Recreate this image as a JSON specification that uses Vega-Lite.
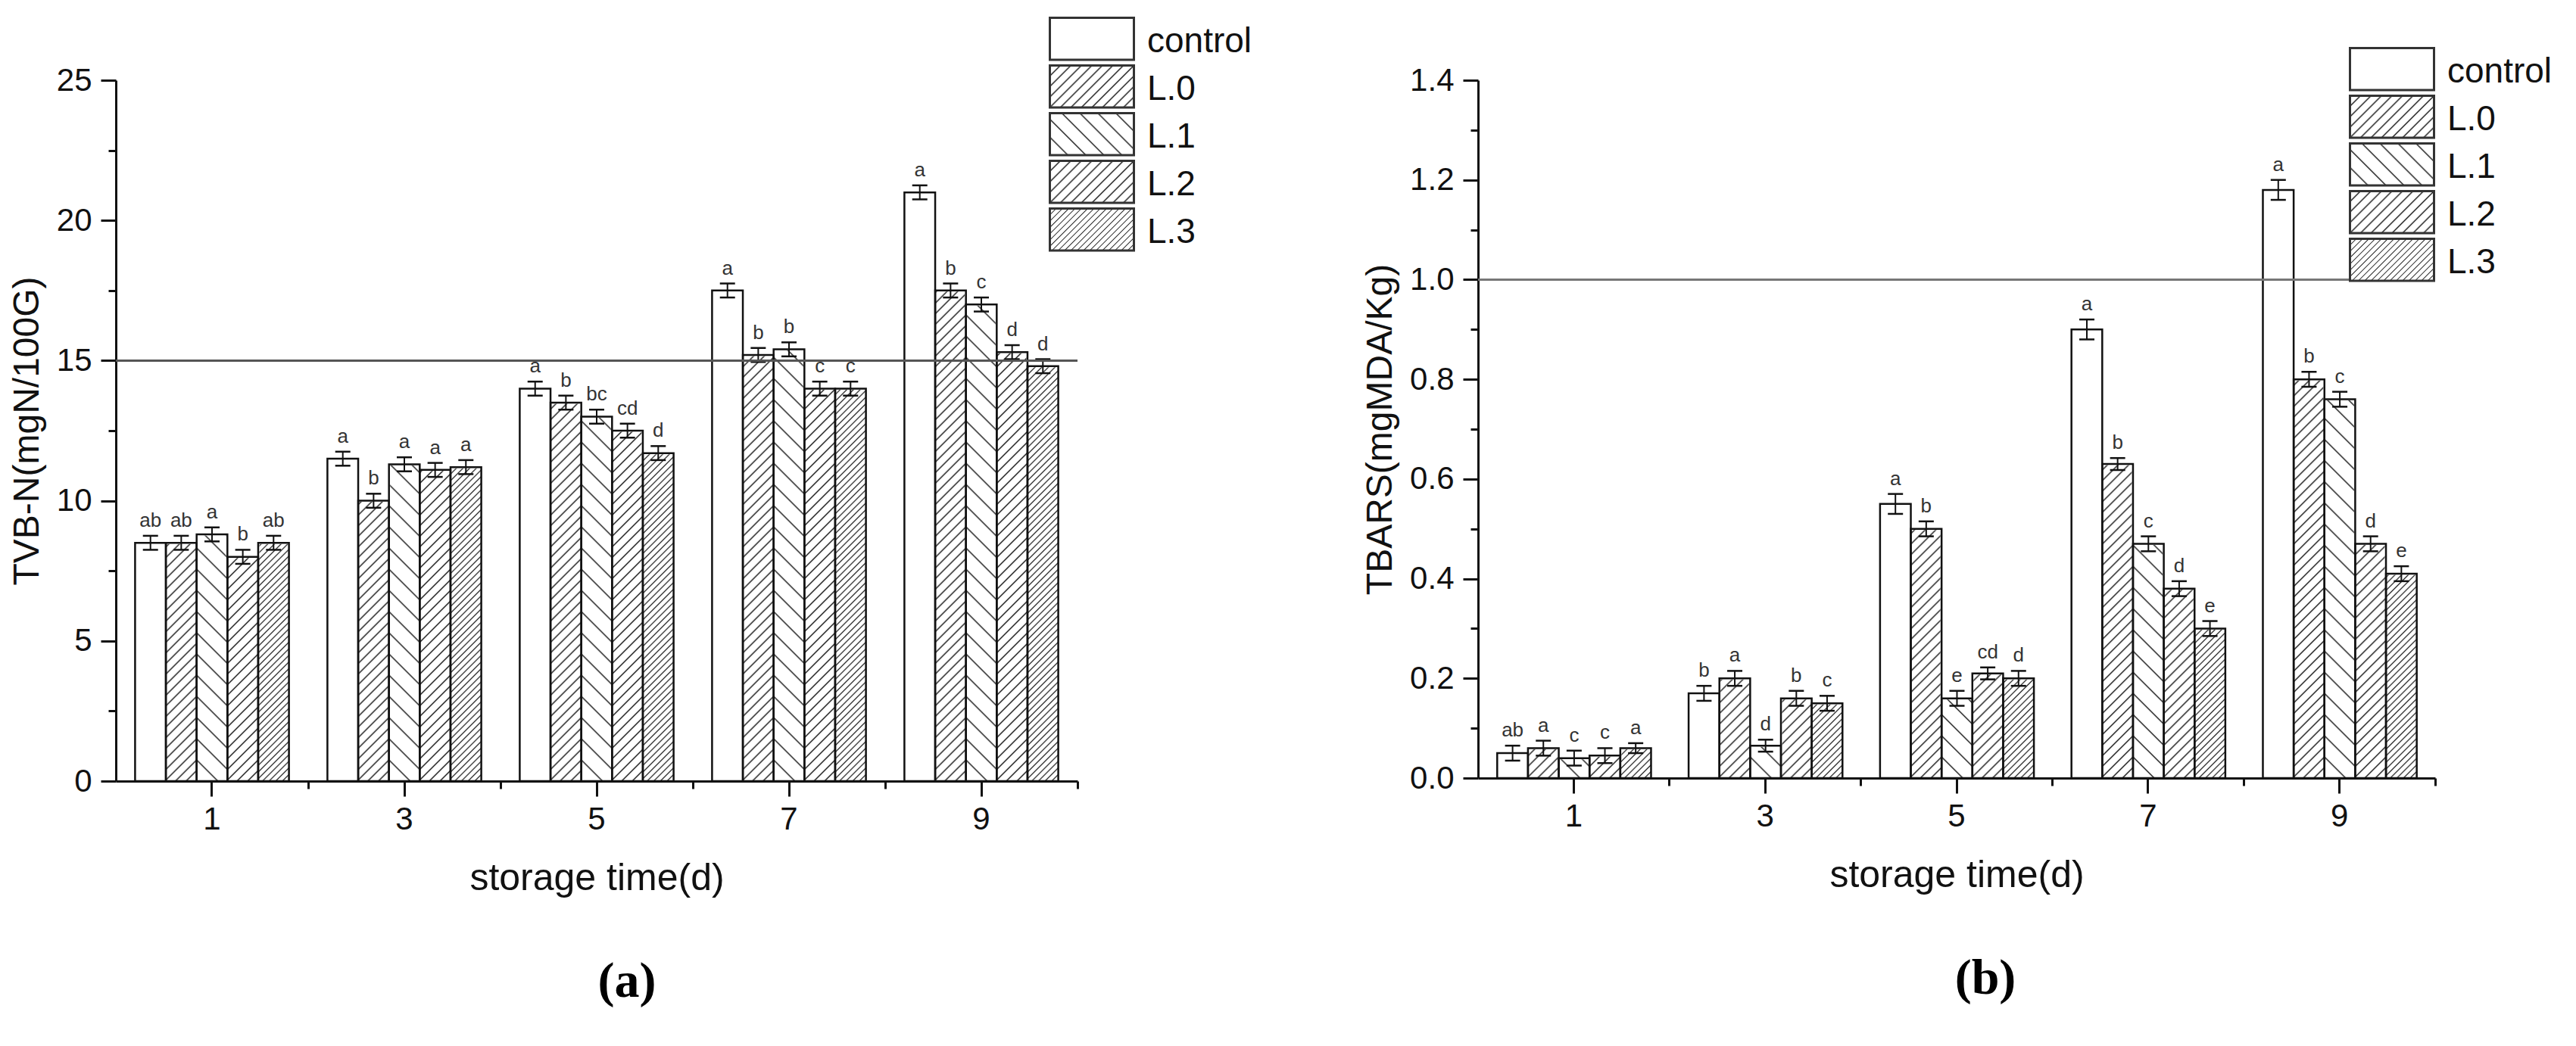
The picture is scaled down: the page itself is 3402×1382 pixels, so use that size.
{
"$schema":"https://vega.github.io/schema/vega-lite/v6.json",
"background":"#ffffff",
"padding":{"left":12,"top":22,"right":10,"bottom":10},
"spacing":145,
"resolve":{"scale":{"fill":"independent"},"legend":{"fill":"independent"}},
"params":[
{"name":"g0","value":{"gradient":"linear","x1":0,"y1":0,"x2":0.0651,"y2":1.0576,"stops":[{"offset":0,"color":"#222"},{"offset":0.003,"color":"#fff"},{"offset":0.017,"color":"#fff"},{"offset":0.02,"color":"#222"},{"offset":0.023,"color":"#fff"},{"offset":0.037,"color":"#fff"},{"offset":0.04,"color":"#222"},{"offset":0.043,"color":"#fff"},{"offset":0.057,"color":"#fff"},{"offset":0.06,"color":"#222"},{"offset":0.063,"color":"#fff"},{"offset":0.077,"color":"#fff"},{"offset":0.08,"color":"#222"},{"offset":0.083,"color":"#fff"},{"offset":0.097,"color":"#fff"},{"offset":0.1,"color":"#222"},{"offset":0.103,"color":"#fff"},{"offset":0.117,"color":"#fff"},{"offset":0.12,"color":"#222"},{"offset":0.123,"color":"#fff"},{"offset":0.137,"color":"#fff"},{"offset":0.14,"color":"#222"},{"offset":0.143,"color":"#fff"},{"offset":0.157,"color":"#fff"},{"offset":0.16,"color":"#222"},{"offset":0.163,"color":"#fff"},{"offset":0.177,"color":"#fff"},{"offset":0.18,"color":"#222"},{"offset":0.183,"color":"#fff"},{"offset":0.197,"color":"#fff"},{"offset":0.2,"color":"#222"},{"offset":0.203,"color":"#fff"},{"offset":0.217,"color":"#fff"},{"offset":0.22,"color":"#222"},{"offset":0.223,"color":"#fff"},{"offset":0.237,"color":"#fff"},{"offset":0.24,"color":"#222"},{"offset":0.243,"color":"#fff"},{"offset":0.257,"color":"#fff"},{"offset":0.26,"color":"#222"},{"offset":0.263,"color":"#fff"},{"offset":0.277,"color":"#fff"},{"offset":0.28,"color":"#222"},{"offset":0.283,"color":"#fff"},{"offset":0.297,"color":"#fff"},{"offset":0.3,"color":"#222"},{"offset":0.303,"color":"#fff"},{"offset":0.317,"color":"#fff"},{"offset":0.32,"color":"#222"},{"offset":0.323,"color":"#fff"},{"offset":0.337,"color":"#fff"},{"offset":0.34,"color":"#222"},{"offset":0.343,"color":"#fff"},{"offset":0.357,"color":"#fff"},{"offset":0.36,"color":"#222"},{"offset":0.363,"color":"#fff"},{"offset":0.377,"color":"#fff"},{"offset":0.38,"color":"#222"},{"offset":0.383,"color":"#fff"},{"offset":0.397,"color":"#fff"},{"offset":0.4,"color":"#222"},{"offset":0.403,"color":"#fff"},{"offset":0.417,"color":"#fff"},{"offset":0.42,"color":"#222"},{"offset":0.423,"color":"#fff"},{"offset":0.437,"color":"#fff"},{"offset":0.44,"color":"#222"},{"offset":0.443,"color":"#fff"},{"offset":0.457,"color":"#fff"},{"offset":0.46,"color":"#222"},{"offset":0.463,"color":"#fff"},{"offset":0.477,"color":"#fff"},{"offset":0.48,"color":"#222"},{"offset":0.483,"color":"#fff"},{"offset":0.497,"color":"#fff"},{"offset":0.5,"color":"#222"},{"offset":0.503,"color":"#fff"},{"offset":0.517,"color":"#fff"},{"offset":0.52,"color":"#222"},{"offset":0.523,"color":"#fff"},{"offset":0.537,"color":"#fff"},{"offset":0.54,"color":"#222"},{"offset":0.543,"color":"#fff"},{"offset":0.557,"color":"#fff"},{"offset":0.56,"color":"#222"},{"offset":0.563,"color":"#fff"},{"offset":0.577,"color":"#fff"},{"offset":0.58,"color":"#222"},{"offset":0.583,"color":"#fff"},{"offset":0.597,"color":"#fff"},{"offset":0.6,"color":"#222"},{"offset":0.603,"color":"#fff"},{"offset":0.617,"color":"#fff"},{"offset":0.62,"color":"#222"},{"offset":0.623,"color":"#fff"},{"offset":0.637,"color":"#fff"},{"offset":0.64,"color":"#222"},{"offset":0.643,"color":"#fff"},{"offset":0.657,"color":"#fff"},{"offset":0.66,"color":"#222"},{"offset":0.663,"color":"#fff"},{"offset":0.677,"color":"#fff"},{"offset":0.68,"color":"#222"},{"offset":0.683,"color":"#fff"},{"offset":0.697,"color":"#fff"},{"offset":0.7,"color":"#222"},{"offset":0.703,"color":"#fff"},{"offset":0.717,"color":"#fff"},{"offset":0.72,"color":"#222"},{"offset":0.723,"color":"#fff"},{"offset":0.737,"color":"#fff"},{"offset":0.74,"color":"#222"},{"offset":0.743,"color":"#fff"},{"offset":0.757,"color":"#fff"},{"offset":0.76,"color":"#222"},{"offset":0.763,"color":"#fff"},{"offset":0.777,"color":"#fff"},{"offset":0.78,"color":"#222"},{"offset":0.783,"color":"#fff"},{"offset":0.797,"color":"#fff"},{"offset":0.8,"color":"#222"},{"offset":0.803,"color":"#fff"},{"offset":0.817,"color":"#fff"},{"offset":0.82,"color":"#222"},{"offset":0.823,"color":"#fff"},{"offset":0.837,"color":"#fff"},{"offset":0.84,"color":"#222"},{"offset":0.843,"color":"#fff"},{"offset":0.857,"color":"#fff"},{"offset":0.86,"color":"#222"},{"offset":0.863,"color":"#fff"},{"offset":0.877,"color":"#fff"},{"offset":0.88,"color":"#222"},{"offset":0.883,"color":"#fff"},{"offset":0.897,"color":"#fff"},{"offset":0.9,"color":"#222"},{"offset":0.903,"color":"#fff"},{"offset":0.917,"color":"#fff"},{"offset":0.92,"color":"#222"},{"offset":0.923,"color":"#fff"},{"offset":0.937,"color":"#fff"},{"offset":0.94,"color":"#222"},{"offset":0.943,"color":"#fff"},{"offset":0.957,"color":"#fff"},{"offset":0.96,"color":"#222"},{"offset":0.963,"color":"#fff"},{"offset":0.977,"color":"#fff"},{"offset":0.98,"color":"#222"},{"offset":0.983,"color":"#fff"},{"offset":0.997,"color":"#fff"},{"offset":1,"color":"#222"}]}},
{"name":"g1","value":{"gradient":"linear","x1":0,"y1":1,"x2":0.0651,"y2":-0.0576,"stops":[{"offset":0,"color":"#222"},{"offset":0.003,"color":"#fff"},{"offset":0.037,"color":"#fff"},{"offset":0.04,"color":"#222"},{"offset":0.043,"color":"#fff"},{"offset":0.077,"color":"#fff"},{"offset":0.08,"color":"#222"},{"offset":0.083,"color":"#fff"},{"offset":0.117,"color":"#fff"},{"offset":0.12,"color":"#222"},{"offset":0.123,"color":"#fff"},{"offset":0.157,"color":"#fff"},{"offset":0.16,"color":"#222"},{"offset":0.163,"color":"#fff"},{"offset":0.197,"color":"#fff"},{"offset":0.2,"color":"#222"},{"offset":0.203,"color":"#fff"},{"offset":0.237,"color":"#fff"},{"offset":0.24,"color":"#222"},{"offset":0.243,"color":"#fff"},{"offset":0.277,"color":"#fff"},{"offset":0.28,"color":"#222"},{"offset":0.283,"color":"#fff"},{"offset":0.317,"color":"#fff"},{"offset":0.32,"color":"#222"},{"offset":0.323,"color":"#fff"},{"offset":0.357,"color":"#fff"},{"offset":0.36,"color":"#222"},{"offset":0.363,"color":"#fff"},{"offset":0.397,"color":"#fff"},{"offset":0.4,"color":"#222"},{"offset":0.403,"color":"#fff"},{"offset":0.437,"color":"#fff"},{"offset":0.44,"color":"#222"},{"offset":0.443,"color":"#fff"},{"offset":0.477,"color":"#fff"},{"offset":0.48,"color":"#222"},{"offset":0.483,"color":"#fff"},{"offset":0.517,"color":"#fff"},{"offset":0.52,"color":"#222"},{"offset":0.523,"color":"#fff"},{"offset":0.557,"color":"#fff"},{"offset":0.56,"color":"#222"},{"offset":0.563,"color":"#fff"},{"offset":0.597,"color":"#fff"},{"offset":0.6,"color":"#222"},{"offset":0.603,"color":"#fff"},{"offset":0.637,"color":"#fff"},{"offset":0.64,"color":"#222"},{"offset":0.643,"color":"#fff"},{"offset":0.677,"color":"#fff"},{"offset":0.68,"color":"#222"},{"offset":0.683,"color":"#fff"},{"offset":0.717,"color":"#fff"},{"offset":0.72,"color":"#222"},{"offset":0.723,"color":"#fff"},{"offset":0.757,"color":"#fff"},{"offset":0.76,"color":"#222"},{"offset":0.763,"color":"#fff"},{"offset":0.797,"color":"#fff"},{"offset":0.8,"color":"#222"},{"offset":0.803,"color":"#fff"},{"offset":0.837,"color":"#fff"},{"offset":0.84,"color":"#222"},{"offset":0.843,"color":"#fff"},{"offset":0.877,"color":"#fff"},{"offset":0.88,"color":"#222"},{"offset":0.883,"color":"#fff"},{"offset":0.917,"color":"#fff"},{"offset":0.92,"color":"#222"},{"offset":0.923,"color":"#fff"},{"offset":0.957,"color":"#fff"},{"offset":0.96,"color":"#222"},{"offset":0.963,"color":"#fff"},{"offset":0.997,"color":"#fff"},{"offset":1,"color":"#222"}]}},
{"name":"g3","value":{"gradient":"linear","x1":0,"y1":0,"x2":0.0651,"y2":1.0576,"stops":[{"offset":0,"color":"#222"},{"offset":0.0025,"color":"#fff"},{"offset":0.01,"color":"#fff"},{"offset":0.0125,"color":"#222"},{"offset":0.015,"color":"#fff"},{"offset":0.0225,"color":"#fff"},{"offset":0.025,"color":"#222"},{"offset":0.0275,"color":"#fff"},{"offset":0.035,"color":"#fff"},{"offset":0.0375,"color":"#222"},{"offset":0.04,"color":"#fff"},{"offset":0.0475,"color":"#fff"},{"offset":0.05,"color":"#222"},{"offset":0.0525,"color":"#fff"},{"offset":0.06,"color":"#fff"},{"offset":0.0625,"color":"#222"},{"offset":0.065,"color":"#fff"},{"offset":0.0725,"color":"#fff"},{"offset":0.075,"color":"#222"},{"offset":0.0775,"color":"#fff"},{"offset":0.085,"color":"#fff"},{"offset":0.0875,"color":"#222"},{"offset":0.09,"color":"#fff"},{"offset":0.0975,"color":"#fff"},{"offset":0.1,"color":"#222"},{"offset":0.1025,"color":"#fff"},{"offset":0.11,"color":"#fff"},{"offset":0.1125,"color":"#222"},{"offset":0.115,"color":"#fff"},{"offset":0.1225,"color":"#fff"},{"offset":0.125,"color":"#222"},{"offset":0.1275,"color":"#fff"},{"offset":0.135,"color":"#fff"},{"offset":0.1375,"color":"#222"},{"offset":0.14,"color":"#fff"},{"offset":0.1475,"color":"#fff"},{"offset":0.15,"color":"#222"},{"offset":0.1525,"color":"#fff"},{"offset":0.16,"color":"#fff"},{"offset":0.1625,"color":"#222"},{"offset":0.165,"color":"#fff"},{"offset":0.1725,"color":"#fff"},{"offset":0.175,"color":"#222"},{"offset":0.1775,"color":"#fff"},{"offset":0.185,"color":"#fff"},{"offset":0.1875,"color":"#222"},{"offset":0.19,"color":"#fff"},{"offset":0.1975,"color":"#fff"},{"offset":0.2,"color":"#222"},{"offset":0.2025,"color":"#fff"},{"offset":0.21,"color":"#fff"},{"offset":0.2125,"color":"#222"},{"offset":0.215,"color":"#fff"},{"offset":0.2225,"color":"#fff"},{"offset":0.225,"color":"#222"},{"offset":0.2275,"color":"#fff"},{"offset":0.235,"color":"#fff"},{"offset":0.2375,"color":"#222"},{"offset":0.24,"color":"#fff"},{"offset":0.2475,"color":"#fff"},{"offset":0.25,"color":"#222"},{"offset":0.2525,"color":"#fff"},{"offset":0.26,"color":"#fff"},{"offset":0.2625,"color":"#222"},{"offset":0.265,"color":"#fff"},{"offset":0.2725,"color":"#fff"},{"offset":0.275,"color":"#222"},{"offset":0.2775,"color":"#fff"},{"offset":0.285,"color":"#fff"},{"offset":0.2875,"color":"#222"},{"offset":0.29,"color":"#fff"},{"offset":0.2975,"color":"#fff"},{"offset":0.3,"color":"#222"},{"offset":0.3025,"color":"#fff"},{"offset":0.31,"color":"#fff"},{"offset":0.3125,"color":"#222"},{"offset":0.315,"color":"#fff"},{"offset":0.3225,"color":"#fff"},{"offset":0.325,"color":"#222"},{"offset":0.3275,"color":"#fff"},{"offset":0.335,"color":"#fff"},{"offset":0.3375,"color":"#222"},{"offset":0.34,"color":"#fff"},{"offset":0.3475,"color":"#fff"},{"offset":0.35,"color":"#222"},{"offset":0.3525,"color":"#fff"},{"offset":0.36,"color":"#fff"},{"offset":0.3625,"color":"#222"},{"offset":0.365,"color":"#fff"},{"offset":0.3725,"color":"#fff"},{"offset":0.375,"color":"#222"},{"offset":0.3775,"color":"#fff"},{"offset":0.385,"color":"#fff"},{"offset":0.3875,"color":"#222"},{"offset":0.39,"color":"#fff"},{"offset":0.3975,"color":"#fff"},{"offset":0.4,"color":"#222"},{"offset":0.4025,"color":"#fff"},{"offset":0.41,"color":"#fff"},{"offset":0.4125,"color":"#222"},{"offset":0.415,"color":"#fff"},{"offset":0.4225,"color":"#fff"},{"offset":0.425,"color":"#222"},{"offset":0.4275,"color":"#fff"},{"offset":0.435,"color":"#fff"},{"offset":0.4375,"color":"#222"},{"offset":0.44,"color":"#fff"},{"offset":0.4475,"color":"#fff"},{"offset":0.45,"color":"#222"},{"offset":0.4525,"color":"#fff"},{"offset":0.46,"color":"#fff"},{"offset":0.4625,"color":"#222"},{"offset":0.465,"color":"#fff"},{"offset":0.4725,"color":"#fff"},{"offset":0.475,"color":"#222"},{"offset":0.4775,"color":"#fff"},{"offset":0.485,"color":"#fff"},{"offset":0.4875,"color":"#222"},{"offset":0.49,"color":"#fff"},{"offset":0.4975,"color":"#fff"},{"offset":0.5,"color":"#222"},{"offset":0.5025,"color":"#fff"},{"offset":0.51,"color":"#fff"},{"offset":0.5125,"color":"#222"},{"offset":0.515,"color":"#fff"},{"offset":0.5225,"color":"#fff"},{"offset":0.525,"color":"#222"},{"offset":0.5275,"color":"#fff"},{"offset":0.535,"color":"#fff"},{"offset":0.5375,"color":"#222"},{"offset":0.54,"color":"#fff"},{"offset":0.5475,"color":"#fff"},{"offset":0.55,"color":"#222"},{"offset":0.5525,"color":"#fff"},{"offset":0.56,"color":"#fff"},{"offset":0.5625,"color":"#222"},{"offset":0.565,"color":"#fff"},{"offset":0.5725,"color":"#fff"},{"offset":0.575,"color":"#222"},{"offset":0.5775,"color":"#fff"},{"offset":0.585,"color":"#fff"},{"offset":0.5875,"color":"#222"},{"offset":0.59,"color":"#fff"},{"offset":0.5975,"color":"#fff"},{"offset":0.6,"color":"#222"},{"offset":0.6025,"color":"#fff"},{"offset":0.61,"color":"#fff"},{"offset":0.6125,"color":"#222"},{"offset":0.615,"color":"#fff"},{"offset":0.6225,"color":"#fff"},{"offset":0.625,"color":"#222"},{"offset":0.6275,"color":"#fff"},{"offset":0.635,"color":"#fff"},{"offset":0.6375,"color":"#222"},{"offset":0.64,"color":"#fff"},{"offset":0.6475,"color":"#fff"},{"offset":0.65,"color":"#222"},{"offset":0.6525,"color":"#fff"},{"offset":0.66,"color":"#fff"},{"offset":0.6625,"color":"#222"},{"offset":0.665,"color":"#fff"},{"offset":0.6725,"color":"#fff"},{"offset":0.675,"color":"#222"},{"offset":0.6775,"color":"#fff"},{"offset":0.685,"color":"#fff"},{"offset":0.6875,"color":"#222"},{"offset":0.69,"color":"#fff"},{"offset":0.6975,"color":"#fff"},{"offset":0.7,"color":"#222"},{"offset":0.7025,"color":"#fff"},{"offset":0.71,"color":"#fff"},{"offset":0.7125,"color":"#222"},{"offset":0.715,"color":"#fff"},{"offset":0.7225,"color":"#fff"},{"offset":0.725,"color":"#222"},{"offset":0.7275,"color":"#fff"},{"offset":0.735,"color":"#fff"},{"offset":0.7375,"color":"#222"},{"offset":0.74,"color":"#fff"},{"offset":0.7475,"color":"#fff"},{"offset":0.75,"color":"#222"},{"offset":0.7525,"color":"#fff"},{"offset":0.76,"color":"#fff"},{"offset":0.7625,"color":"#222"},{"offset":0.765,"color":"#fff"},{"offset":0.7725,"color":"#fff"},{"offset":0.775,"color":"#222"},{"offset":0.7775,"color":"#fff"},{"offset":0.785,"color":"#fff"},{"offset":0.7875,"color":"#222"},{"offset":0.79,"color":"#fff"},{"offset":0.7975,"color":"#fff"},{"offset":0.8,"color":"#222"},{"offset":0.8025,"color":"#fff"},{"offset":0.81,"color":"#fff"},{"offset":0.8125,"color":"#222"},{"offset":0.815,"color":"#fff"},{"offset":0.8225,"color":"#fff"},{"offset":0.825,"color":"#222"},{"offset":0.8275,"color":"#fff"},{"offset":0.835,"color":"#fff"},{"offset":0.8375,"color":"#222"},{"offset":0.84,"color":"#fff"},{"offset":0.8475,"color":"#fff"},{"offset":0.85,"color":"#222"},{"offset":0.8525,"color":"#fff"},{"offset":0.86,"color":"#fff"},{"offset":0.8625,"color":"#222"},{"offset":0.865,"color":"#fff"},{"offset":0.8725,"color":"#fff"},{"offset":0.875,"color":"#222"},{"offset":0.8775,"color":"#fff"},{"offset":0.885,"color":"#fff"},{"offset":0.8875,"color":"#222"},{"offset":0.89,"color":"#fff"},{"offset":0.8975,"color":"#fff"},{"offset":0.9,"color":"#222"},{"offset":0.9025,"color":"#fff"},{"offset":0.91,"color":"#fff"},{"offset":0.9125,"color":"#222"},{"offset":0.915,"color":"#fff"},{"offset":0.9225,"color":"#fff"},{"offset":0.925,"color":"#222"},{"offset":0.9275,"color":"#fff"},{"offset":0.935,"color":"#fff"},{"offset":0.9375,"color":"#222"},{"offset":0.94,"color":"#fff"},{"offset":0.9475,"color":"#fff"},{"offset":0.95,"color":"#222"},{"offset":0.9525,"color":"#fff"},{"offset":0.96,"color":"#fff"},{"offset":0.9625,"color":"#222"},{"offset":0.965,"color":"#fff"},{"offset":0.9725,"color":"#fff"},{"offset":0.975,"color":"#222"},{"offset":0.9775,"color":"#fff"},{"offset":0.985,"color":"#fff"},{"offset":0.9875,"color":"#222"},{"offset":0.99,"color":"#fff"},{"offset":0.9975,"color":"#fff"},{"offset":1,"color":"#222"}]}},
{"name":"lg0","value":{"gradient":"linear","x1":0,"y1":0,"x2":1.2,"y2":0.6,"stops":[{"offset":0,"color":"#222"},{"offset":0.0125,"color":"#fff"},{"offset":0.0708,"color":"#fff"},{"offset":0.0833,"color":"#222"},{"offset":0.0958,"color":"#fff"},{"offset":0.1542,"color":"#fff"},{"offset":0.1667,"color":"#222"},{"offset":0.1792,"color":"#fff"},{"offset":0.2375,"color":"#fff"},{"offset":0.25,"color":"#222"},{"offset":0.2625,"color":"#fff"},{"offset":0.3208,"color":"#fff"},{"offset":0.3333,"color":"#222"},{"offset":0.3458,"color":"#fff"},{"offset":0.4042,"color":"#fff"},{"offset":0.4167,"color":"#222"},{"offset":0.4292,"color":"#fff"},{"offset":0.4875,"color":"#fff"},{"offset":0.5,"color":"#222"},{"offset":0.5125,"color":"#fff"},{"offset":0.5708,"color":"#fff"},{"offset":0.5833,"color":"#222"},{"offset":0.5958,"color":"#fff"},{"offset":0.6542,"color":"#fff"},{"offset":0.6667,"color":"#222"},{"offset":0.6792,"color":"#fff"},{"offset":0.7375,"color":"#fff"},{"offset":0.75,"color":"#222"},{"offset":0.7625,"color":"#fff"},{"offset":0.8208,"color":"#fff"},{"offset":0.8333,"color":"#222"},{"offset":0.8458,"color":"#fff"},{"offset":0.9042,"color":"#fff"},{"offset":0.9167,"color":"#222"},{"offset":0.9292,"color":"#fff"},{"offset":0.9875,"color":"#fff"},{"offset":1,"color":"#222"}]}},
{"name":"lg1","value":{"gradient":"linear","x1":0,"y1":1,"x2":1.2,"y2":0.4,"stops":[{"offset":0,"color":"#222"},{"offset":0.0125,"color":"#fff"},{"offset":0.1304,"color":"#fff"},{"offset":0.1429,"color":"#222"},{"offset":0.1554,"color":"#fff"},{"offset":0.2732,"color":"#fff"},{"offset":0.2857,"color":"#222"},{"offset":0.2982,"color":"#fff"},{"offset":0.4161,"color":"#fff"},{"offset":0.4286,"color":"#222"},{"offset":0.4411,"color":"#fff"},{"offset":0.5589,"color":"#fff"},{"offset":0.5714,"color":"#222"},{"offset":0.5839,"color":"#fff"},{"offset":0.7018,"color":"#fff"},{"offset":0.7143,"color":"#222"},{"offset":0.7268,"color":"#fff"},{"offset":0.8446,"color":"#fff"},{"offset":0.8571,"color":"#222"},{"offset":0.8696,"color":"#fff"},{"offset":0.9875,"color":"#fff"},{"offset":1,"color":"#222"}]}},
{"name":"lg3","value":{"gradient":"linear","x1":0,"y1":0,"x2":1.2,"y2":0.6,"stops":[{"offset":0,"color":"#222"},{"offset":0.008,"color":"#fff"},{"offset":0.042,"color":"#fff"},{"offset":0.05,"color":"#222"},{"offset":0.058,"color":"#fff"},{"offset":0.092,"color":"#fff"},{"offset":0.1,"color":"#222"},{"offset":0.108,"color":"#fff"},{"offset":0.142,"color":"#fff"},{"offset":0.15,"color":"#222"},{"offset":0.158,"color":"#fff"},{"offset":0.192,"color":"#fff"},{"offset":0.2,"color":"#222"},{"offset":0.208,"color":"#fff"},{"offset":0.242,"color":"#fff"},{"offset":0.25,"color":"#222"},{"offset":0.258,"color":"#fff"},{"offset":0.292,"color":"#fff"},{"offset":0.3,"color":"#222"},{"offset":0.308,"color":"#fff"},{"offset":0.342,"color":"#fff"},{"offset":0.35,"color":"#222"},{"offset":0.358,"color":"#fff"},{"offset":0.392,"color":"#fff"},{"offset":0.4,"color":"#222"},{"offset":0.408,"color":"#fff"},{"offset":0.442,"color":"#fff"},{"offset":0.45,"color":"#222"},{"offset":0.458,"color":"#fff"},{"offset":0.492,"color":"#fff"},{"offset":0.5,"color":"#222"},{"offset":0.508,"color":"#fff"},{"offset":0.542,"color":"#fff"},{"offset":0.55,"color":"#222"},{"offset":0.558,"color":"#fff"},{"offset":0.592,"color":"#fff"},{"offset":0.6,"color":"#222"},{"offset":0.608,"color":"#fff"},{"offset":0.642,"color":"#fff"},{"offset":0.65,"color":"#222"},{"offset":0.658,"color":"#fff"},{"offset":0.692,"color":"#fff"},{"offset":0.7,"color":"#222"},{"offset":0.708,"color":"#fff"},{"offset":0.742,"color":"#fff"},{"offset":0.75,"color":"#222"},{"offset":0.758,"color":"#fff"},{"offset":0.792,"color":"#fff"},{"offset":0.8,"color":"#222"},{"offset":0.808,"color":"#fff"},{"offset":0.842,"color":"#fff"},{"offset":0.85,"color":"#222"},{"offset":0.858,"color":"#fff"},{"offset":0.892,"color":"#fff"},{"offset":0.9,"color":"#222"},{"offset":0.908,"color":"#fff"},{"offset":0.942,"color":"#fff"},{"offset":0.95,"color":"#222"},{"offset":0.958,"color":"#fff"},{"offset":0.992,"color":"#fff"},{"offset":1,"color":"#222"}]}}
],
"datasets":{
"tvbn":[
{"day":1,"series":"control","value":8.5,"lo":8.25,"hi":8.75,"letter":"ab"},
{"day":1,"series":"L.0","value":8.5,"lo":8.25,"hi":8.75,"letter":"ab"},
{"day":1,"series":"L.1","value":8.8,"lo":8.55,"hi":9.05,"letter":"a"},
{"day":1,"series":"L.2","value":8.0,"lo":7.75,"hi":8.25,"letter":"b"},
{"day":1,"series":"L.3","value":8.5,"lo":8.25,"hi":8.75,"letter":"ab"},
{"day":3,"series":"control","value":11.5,"lo":11.25,"hi":11.75,"letter":"a"},
{"day":3,"series":"L.0","value":10.0,"lo":9.75,"hi":10.25,"letter":"b"},
{"day":3,"series":"L.1","value":11.3,"lo":11.05,"hi":11.55,"letter":"a"},
{"day":3,"series":"L.2","value":11.1,"lo":10.85,"hi":11.35,"letter":"a"},
{"day":3,"series":"L.3","value":11.2,"lo":10.95,"hi":11.45,"letter":"a"},
{"day":5,"series":"control","value":14.0,"lo":13.75,"hi":14.25,"letter":"a"},
{"day":5,"series":"L.0","value":13.5,"lo":13.25,"hi":13.75,"letter":"b"},
{"day":5,"series":"L.1","value":13.0,"lo":12.75,"hi":13.25,"letter":"bc"},
{"day":5,"series":"L.2","value":12.5,"lo":12.25,"hi":12.75,"letter":"cd"},
{"day":5,"series":"L.3","value":11.7,"lo":11.45,"hi":11.95,"letter":"d"},
{"day":7,"series":"control","value":17.5,"lo":17.25,"hi":17.75,"letter":"a"},
{"day":7,"series":"L.0","value":15.2,"lo":14.95,"hi":15.45,"letter":"b"},
{"day":7,"series":"L.1","value":15.4,"lo":15.15,"hi":15.65,"letter":"b"},
{"day":7,"series":"L.2","value":14.0,"lo":13.75,"hi":14.25,"letter":"c"},
{"day":7,"series":"L.3","value":14.0,"lo":13.75,"hi":14.25,"letter":"c"},
{"day":9,"series":"control","value":21.0,"lo":20.75,"hi":21.25,"letter":"a"},
{"day":9,"series":"L.0","value":17.5,"lo":17.25,"hi":17.75,"letter":"b"},
{"day":9,"series":"L.1","value":17.0,"lo":16.75,"hi":17.25,"letter":"c"},
{"day":9,"series":"L.2","value":15.3,"lo":15.05,"hi":15.55,"letter":"d"},
{"day":9,"series":"L.3","value":14.8,"lo":14.55,"hi":15.05,"letter":"d"}
],
"tbars":[
{"day":1,"series":"control","value":0.05,"lo":0.035,"hi":0.065,"letter":"ab"},
{"day":1,"series":"L.0","value":0.06,"lo":0.045,"hi":0.075,"letter":"a"},
{"day":1,"series":"L.1","value":0.04,"lo":0.025,"hi":0.055,"letter":"c"},
{"day":1,"series":"L.2","value":0.045,"lo":0.03,"hi":0.06,"letter":"c"},
{"day":1,"series":"L.3","value":0.06,"lo":0.05,"hi":0.07,"letter":"a"},
{"day":3,"series":"control","value":0.17,"lo":0.155,"hi":0.185,"letter":"b"},
{"day":3,"series":"L.0","value":0.2,"lo":0.185,"hi":0.215,"letter":"a"},
{"day":3,"series":"L.1","value":0.065,"lo":0.053,"hi":0.077,"letter":"d"},
{"day":3,"series":"L.2","value":0.16,"lo":0.145,"hi":0.175,"letter":"b"},
{"day":3,"series":"L.3","value":0.15,"lo":0.135,"hi":0.165,"letter":"c"},
{"day":5,"series":"control","value":0.55,"lo":0.53,"hi":0.57,"letter":"a"},
{"day":5,"series":"L.0","value":0.5,"lo":0.485,"hi":0.515,"letter":"b"},
{"day":5,"series":"L.1","value":0.16,"lo":0.145,"hi":0.175,"letter":"e"},
{"day":5,"series":"L.2","value":0.21,"lo":0.198,"hi":0.222,"letter":"cd"},
{"day":5,"series":"L.3","value":0.2,"lo":0.185,"hi":0.215,"letter":"d"},
{"day":7,"series":"control","value":0.9,"lo":0.88,"hi":0.92,"letter":"a"},
{"day":7,"series":"L.0","value":0.63,"lo":0.618,"hi":0.642,"letter":"b"},
{"day":7,"series":"L.1","value":0.47,"lo":0.455,"hi":0.485,"letter":"c"},
{"day":7,"series":"L.2","value":0.38,"lo":0.365,"hi":0.395,"letter":"d"},
{"day":7,"series":"L.3","value":0.3,"lo":0.285,"hi":0.315,"letter":"e"},
{"day":9,"series":"control","value":1.18,"lo":1.16,"hi":1.2,"letter":"a"},
{"day":9,"series":"L.0","value":0.8,"lo":0.785,"hi":0.815,"letter":"b"},
{"day":9,"series":"L.1","value":0.76,"lo":0.745,"hi":0.775,"letter":"c"},
{"day":9,"series":"L.2","value":0.47,"lo":0.455,"hi":0.485,"letter":"d"},
{"day":9,"series":"L.3","value":0.41,"lo":0.395,"hi":0.425,"letter":"e"}
]
},
"config":{
"view":{"stroke":null},
"font":"Liberation Sans",
"axis":{"grid":false,"domainColor":"#111","domainWidth":3,"tickColor":"#111","tickWidth":3,"labelColor":"#111","titleColor":"#111","labelFont":"Liberation Sans","titleFont":"Liberation Sans","titleFontWeight":"normal"}
},
"hconcat":[
{
"width":1270,"height":926,
"data":{"name":"tvbn"},
"title":{"text":"(a)","orient":"bottom","anchor":"middle","frame":"group","font":"Liberation Serif","fontSize":66,"fontWeight":"bold","color":"#000","dx":40,"offset":80},
"resolve":{"axis":{"x":"independent","y":"independent"}},
"layer":[
{"transform":[{"filter":"datum.series !== 'control'"}],
"mark":{"type":"bar","fill":{"expr":"datum.series === 'L.1' ? g1 : datum.series === 'L.3' ? g3 : g0"},"strokeWidth":0},
"encoding":{
"x":{"field":"day","type":"ordinal","scale":{"domain":[1,3,5,7,9],"paddingInner":0.2,"paddingOuter":0.1},"axis":{"orient":"bottom","title":"storage time(d)","labelAngle":0,"labelFontSize":42,"labelPadding":10,"tickSize":20,"titleFontSize":50,"titlePadding":32}},
"xOffset":{"field":"series","type":"nominal","scale":{"domain":["control","L.0","L.1","L.2","L.3"],"paddingInner":0,"paddingOuter":0}},
"y":{"datum":17.8,"type":"quantitative","scale":{"domain":[0,25],"nice":false},"axis":null},
"y2":{"datum":0}
}},
{"mark":{"type":"bar","fill":"#ffffff","stroke":"#ffffff","strokeWidth":3},
"encoding":{
"x":{"field":"day","type":"ordinal","scale":{"domain":[1,3,5,7,9],"paddingInner":0.2,"paddingOuter":0.1},"axis":{"orient":"bottom","bandPosition":1.125,"labels":false,"domain":false,"tickSize":10,"title":null}},
"xOffset":{"field":"series","type":"nominal","scale":{"domain":["control","L.0","L.1","L.2","L.3"],"paddingInner":0,"paddingOuter":0}},
"y":{"field":"value","type":"quantitative","scale":{"domain":[0,25],"nice":false},"axis":null},
"y2":{"datum":17.8}
}},
{"mark":{"type":"bar"},
"encoding":{
"x":{"field":"day","type":"ordinal","scale":{"domain":[1,3,5,7,9],"paddingInner":0.2,"paddingOuter":0.1},"axis":null},
"xOffset":{"field":"series","type":"nominal","scale":{"domain":["control","L.0","L.1","L.2","L.3"],"paddingInner":0,"paddingOuter":0}},
"y":{"datum":0,"type":"quantitative","scale":{"domain":[0,25],"nice":false},"axis":null},
"y2":{"datum":0},
"fill":{"field":"series","type":"nominal","scale":{"domain":["control","L.0","L.1","L.2","L.3"],"range":["#ffffff",{"expr":"lg0"},{"expr":"lg1"},{"expr":"lg0"},{"expr":"lg3"}]},
"legend":{"orient":"none","legendX":1232,"legendY":-84,"title":null,"padding":0,"symbolType":"M-1,-1H1V0H-1Z","symbolSize":12321,"symbolStrokeWidth":3,"symbolStrokeColor":"#333","symbolOpacity":1,"labelFont":"Liberation Sans","labelFontSize":46,"labelColor":"#111","labelOffset":16,"labelLimit":500,"labelBaseline":"bottom","rowPadding":-6}}
}},
{"mark":{"type":"bar","fill":"transparent","stroke":"#111","strokeWidth":2.5},
"encoding":{
"x":{"field":"day","type":"ordinal","scale":{"domain":[1,3,5,7,9],"paddingInner":0.2,"paddingOuter":0.1},"axis":null},
"xOffset":{"field":"series","type":"nominal","scale":{"domain":["control","L.0","L.1","L.2","L.3"],"paddingInner":0,"paddingOuter":0}},
"y":{"field":"value","type":"quantitative","scale":{"domain":[0,25],"nice":false},"axis":{"orient":"left","title":"TVB-N(mgN/100G)","values":[0,2.5,5,7.5,10,12.5,15,17.5,20,22.5,25],"labelExpr":"datum.value % 5 === 0 ? datum.label : ''","tickSize":{"condition":{"test":"datum.value % 5 === 0","value":20},"value":10},"labelFontSize":42,"labelPadding":12,"titleFontSize":48,"titlePadding":14}}
}},
{"mark":{"type":"rule","color":"#111","strokeWidth":2},
"encoding":{
"x":{"field":"day","type":"ordinal","scale":{"domain":[1,3,5,7,9],"paddingInner":0.2,"paddingOuter":0.1},"axis":null},
"xOffset":{"field":"series","type":"nominal","scale":{"domain":["control","L.0","L.1","L.2","L.3"],"paddingInner":0,"paddingOuter":0}},
"y":{"field":"lo","type":"quantitative","scale":{"domain":[0,25],"nice":false},"axis":null},
"y2":{"field":"hi"}
}},
{"mark":{"type":"tick","orient":"horizontal","size":20,"thickness":2.5,"color":"#111","opacity":1},
"encoding":{
"x":{"field":"day","type":"ordinal","scale":{"domain":[1,3,5,7,9],"paddingInner":0.2,"paddingOuter":0.1},"axis":null},
"xOffset":{"field":"series","type":"nominal","scale":{"domain":["control","L.0","L.1","L.2","L.3"],"paddingInner":0,"paddingOuter":0}},
"y":{"field":"hi","type":"quantitative","scale":{"domain":[0,25],"nice":false},"axis":null}
}},
{"mark":{"type":"tick","orient":"horizontal","size":20,"thickness":2.5,"color":"#111","opacity":1},
"encoding":{
"x":{"field":"day","type":"ordinal","scale":{"domain":[1,3,5,7,9],"paddingInner":0.2,"paddingOuter":0.1},"axis":null},
"xOffset":{"field":"series","type":"nominal","scale":{"domain":["control","L.0","L.1","L.2","L.3"],"paddingInner":0,"paddingOuter":0}},
"y":{"field":"lo","type":"quantitative","scale":{"domain":[0,25],"nice":false},"axis":null}
}},
{"mark":{"type":"text","baseline":"bottom","dy":-7,"fontSize":26,"color":"#333","font":"Liberation Sans"},
"encoding":{
"x":{"field":"day","type":"ordinal","scale":{"domain":[1,3,5,7,9],"paddingInner":0.2,"paddingOuter":0.1},"axis":null},
"xOffset":{"field":"series","type":"nominal","scale":{"domain":["control","L.0","L.1","L.2","L.3"],"paddingInner":0,"paddingOuter":0}},
"y":{"field":"hi","type":"quantitative","scale":{"domain":[0,25],"nice":false},"axis":null},
"text":{"field":"letter"}
}},
{"mark":{"type":"rule","color":"#555","strokeWidth":3},
"encoding":{"y":{"datum":15,"type":"quantitative","scale":{"domain":[0,25],"nice":false},"axis":null}}}
]
},
{
"width":1264,"height":922,
"data":{"name":"tbars"},
"title":{"text":"(b)","orient":"bottom","anchor":"middle","frame":"group","font":"Liberation Serif","fontSize":66,"fontWeight":"bold","color":"#000","dx":38,"offset":80},
"resolve":{"axis":{"x":"independent","y":"independent"}},
"layer":[
{"transform":[{"filter":"datum.series !== 'control'"}],
"mark":{"type":"bar","fill":{"expr":"datum.series === 'L.1' ? g1 : datum.series === 'L.3' ? g3 : g0"},"strokeWidth":0},
"encoding":{
"x":{"field":"day","type":"ordinal","scale":{"domain":[1,3,5,7,9],"paddingInner":0.2,"paddingOuter":0.1},"axis":{"orient":"bottom","title":"storage time(d)","labelAngle":0,"labelFontSize":42,"labelPadding":10,"tickSize":20,"titleFontSize":50,"titlePadding":32}},
"xOffset":{"field":"series","type":"nominal","scale":{"domain":["control","L.0","L.1","L.2","L.3"],"paddingInner":0,"paddingOuter":0}},
"y":{"datum":1.0,"type":"quantitative","scale":{"domain":[0,1.4],"nice":false},"axis":null},
"y2":{"datum":0}
}},
{"mark":{"type":"bar","fill":"#ffffff","stroke":"#ffffff","strokeWidth":3},
"encoding":{
"x":{"field":"day","type":"ordinal","scale":{"domain":[1,3,5,7,9],"paddingInner":0.2,"paddingOuter":0.1},"axis":{"orient":"bottom","bandPosition":1.125,"labels":false,"domain":false,"tickSize":10,"title":null}},
"xOffset":{"field":"series","type":"nominal","scale":{"domain":["control","L.0","L.1","L.2","L.3"],"paddingInner":0,"paddingOuter":0}},
"y":{"field":"value","type":"quantitative","scale":{"domain":[0,1.4],"nice":false},"axis":null},
"y2":{"datum":1.0}
}},
{"mark":{"type":"bar"},
"encoding":{
"x":{"field":"day","type":"ordinal","scale":{"domain":[1,3,5,7,9],"paddingInner":0.2,"paddingOuter":0.1},"axis":null},
"xOffset":{"field":"series","type":"nominal","scale":{"domain":["control","L.0","L.1","L.2","L.3"],"paddingInner":0,"paddingOuter":0}},
"y":{"datum":0,"type":"quantitative","scale":{"domain":[0,1.4],"nice":false},"axis":null},
"y2":{"datum":0},
"fill":{"field":"series","type":"nominal","scale":{"domain":["control","L.0","L.1","L.2","L.3"],"range":["#ffffff",{"expr":"lg0"},{"expr":"lg1"},{"expr":"lg0"},{"expr":"lg3"}]},
"legend":{"orient":"none","legendX":1150,"legendY":-44,"title":null,"padding":0,"symbolType":"M-1,-1H1V0H-1Z","symbolSize":12321,"symbolStrokeWidth":3,"symbolStrokeColor":"#333","symbolOpacity":1,"labelFont":"Liberation Sans","labelFontSize":46,"labelColor":"#111","labelOffset":16,"labelLimit":500,"labelBaseline":"bottom","rowPadding":-6}}
}},
{"mark":{"type":"bar","fill":"transparent","stroke":"#111","strokeWidth":2.5},
"encoding":{
"x":{"field":"day","type":"ordinal","scale":{"domain":[1,3,5,7,9],"paddingInner":0.2,"paddingOuter":0.1},"axis":null},
"xOffset":{"field":"series","type":"nominal","scale":{"domain":["control","L.0","L.1","L.2","L.3"],"paddingInner":0,"paddingOuter":0}},
"y":{"field":"value","type":"quantitative","scale":{"domain":[0,1.4],"nice":false},"axis":{"orient":"left","title":"TBARS(mgMDA/Kg)","values":[0,0.1,0.2,0.3,0.4,0.5,0.6,0.7,0.8,0.9,1.0,1.1,1.2,1.3,1.4],"format":".1f","labelExpr":"round(datum.value*10) % 2 === 0 ? datum.label : ''","tickSize":{"condition":{"test":"round(datum.value*10) % 2 === 0","value":20},"value":10},"labelFontSize":42,"labelPadding":12,"titleFontSize":48,"titlePadding":14}}
}},
{"mark":{"type":"rule","color":"#111","strokeWidth":2},
"encoding":{
"x":{"field":"day","type":"ordinal","scale":{"domain":[1,3,5,7,9],"paddingInner":0.2,"paddingOuter":0.1},"axis":null},
"xOffset":{"field":"series","type":"nominal","scale":{"domain":["control","L.0","L.1","L.2","L.3"],"paddingInner":0,"paddingOuter":0}},
"y":{"field":"lo","type":"quantitative","scale":{"domain":[0,1.4],"nice":false},"axis":null},
"y2":{"field":"hi"}
}},
{"mark":{"type":"tick","orient":"horizontal","size":20,"thickness":2.5,"color":"#111","opacity":1},
"encoding":{
"x":{"field":"day","type":"ordinal","scale":{"domain":[1,3,5,7,9],"paddingInner":0.2,"paddingOuter":0.1},"axis":null},
"xOffset":{"field":"series","type":"nominal","scale":{"domain":["control","L.0","L.1","L.2","L.3"],"paddingInner":0,"paddingOuter":0}},
"y":{"field":"hi","type":"quantitative","scale":{"domain":[0,1.4],"nice":false},"axis":null}
}},
{"mark":{"type":"tick","orient":"horizontal","size":20,"thickness":2.5,"color":"#111","opacity":1},
"encoding":{
"x":{"field":"day","type":"ordinal","scale":{"domain":[1,3,5,7,9],"paddingInner":0.2,"paddingOuter":0.1},"axis":null},
"xOffset":{"field":"series","type":"nominal","scale":{"domain":["control","L.0","L.1","L.2","L.3"],"paddingInner":0,"paddingOuter":0}},
"y":{"field":"lo","type":"quantitative","scale":{"domain":[0,1.4],"nice":false},"axis":null}
}},
{"mark":{"type":"text","baseline":"bottom","dy":-7,"fontSize":26,"color":"#333","font":"Liberation Sans"},
"encoding":{
"x":{"field":"day","type":"ordinal","scale":{"domain":[1,3,5,7,9],"paddingInner":0.2,"paddingOuter":0.1},"axis":null},
"xOffset":{"field":"series","type":"nominal","scale":{"domain":["control","L.0","L.1","L.2","L.3"],"paddingInner":0,"paddingOuter":0}},
"y":{"field":"hi","type":"quantitative","scale":{"domain":[0,1.4],"nice":false},"axis":null},
"text":{"field":"letter"}
}},
{"mark":{"type":"rule","color":"#777","strokeWidth":2.5},
"encoding":{"y":{"datum":1.0,"type":"quantitative","scale":{"domain":[0,1.4],"nice":false},"axis":null}}}
]
}
]
}
